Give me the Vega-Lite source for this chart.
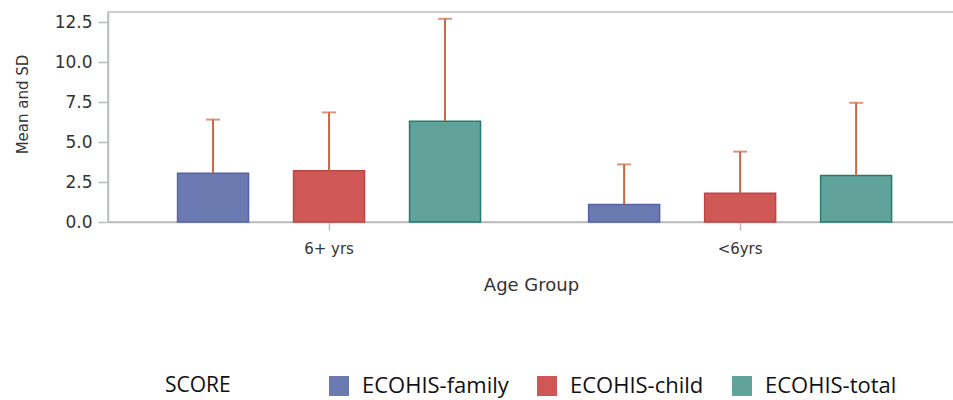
{
  "$schema": "https://vega.github.io/schema/vega-lite/v6.json",
  "width": 846,
  "height": 210,
  "autosize": {"type": "none"},
  "padding": {"left": 108, "top": 12, "right": 0, "bottom": 178},
  "background": "white",
  "config": {
    "view": {"stroke": "#b9bdbd", "strokeWidth": 1.5},
    "axis": {
      "domainColor": "#b9bdbd",
      "domainWidth": 1.5,
      "tickColor": "#b9bdbd",
      "tickWidth": 1.5,
      "labelFont": "DejaVu Sans",
      "titleFont": "DejaVu Sans",
      "labelColor": "#333333",
      "titleColor": "#333333",
      "titleFontWeight": "normal",
      "grid": false
    }
  },
  "data": {
    "values": [
      {"age": "6+ yrs", "score": "ECOHIS-family", "mean": 3.05, "upper": 6.4},
      {"age": "6+ yrs", "score": "ECOHIS-child", "mean": 3.2, "upper": 6.85},
      {"age": "6+ yrs", "score": "ECOHIS-total", "mean": 6.3, "upper": 12.7},
      {"age": "<6yrs", "score": "ECOHIS-family", "mean": 1.1, "upper": 3.6},
      {"age": "<6yrs", "score": "ECOHIS-child", "mean": 1.8, "upper": 4.4},
      {"age": "<6yrs", "score": "ECOHIS-total", "mean": 2.9, "upper": 7.45}
    ]
  },
  "encoding": {
    "x": {
      "field": "age",
      "type": "nominal",
      "sort": ["6+ yrs", "<6yrs"],
      "scale": {"paddingInner": 0, "paddingOuter": 0.029, "align": 0.65},
      "axis": {
        "title": "Age Group",
        "labelAngle": 0,
        "labelFontSize": 15,
        "titleFontSize": 18,
        "tickSize": 8,
        "labelPadding": 11,
        "titlePadding": 20
      }
    },
    "xOffset": {
      "field": "score",
      "type": "nominal",
      "sort": ["ECOHIS-family", "ECOHIS-child", "ECOHIS-total"],
      "scale": {"paddingInner": 0.388, "paddingOuter": 0.466}
    }
  },
  "layer": [
    {
      "mark": {"type": "bar", "strokeWidth": 1.5},
      "encoding": {
        "y": {
          "field": "mean",
          "type": "quantitative",
          "title": "Mean and SD",
          "scale": {"domain": [0, 13.125], "nice": false},
          "axis": {
            "values": [0, 2.5, 5, 7.5, 10, 12.5],
            "format": ".1f",
            "labelFontSize": 17,
            "titleFontSize": 15,
            "tickSize": 10,
            "labelPadding": 6,
            "titlePadding": 24,
            "titleY": 92
          }
        },
        "fill": {
          "field": "score",
          "type": "nominal",
          "sort": ["ECOHIS-family", "ECOHIS-child", "ECOHIS-total"],
          "scale": {"range": ["#6b7bb1", "#cf5856", "#60a39b"]},
          "legend": {
            "title": "SCORE",
            "orient": "none",
            "legendX": 57,
            "legendY": 363,
            "direction": "horizontal",
            "titleOrient": "left",
            "titleFont": "Open Sans",
            "titleFontSize": 21,
            "titleFontWeight": "normal",
            "titleColor": "#111111",
            "titlePadding": 97,
            "labelFont": "Open Sans",
            "labelFontSize": 22,
            "labelColor": "#111111",
            "labelOffset": 12,
            "columnPadding": 27,
            "symbolType": "square",
            "symbolSize": 400,
            "symbolStrokeWidth": 0
          }
        },
        "stroke": {
          "field": "score",
          "type": "nominal",
          "sort": ["ECOHIS-family", "ECOHIS-child", "ECOHIS-total"],
          "scale": {"range": ["#5563a3", "#bb4644", "#2b7a6f"]},
          "legend": null
        }
      }
    },
    {
      "mark": {"type": "rule", "color": "#c76844", "strokeWidth": 2},
      "encoding": {
        "y": {"field": "mean", "type": "quantitative", "title": "Mean and SD"},
        "y2": {"field": "upper"}
      }
    },
    {
      "mark": {"type": "tick", "color": "#c76844", "thickness": 2, "size": 14},
      "encoding": {
        "y": {"field": "upper", "type": "quantitative", "title": "Mean and SD"}
      }
    }
  ]
}
